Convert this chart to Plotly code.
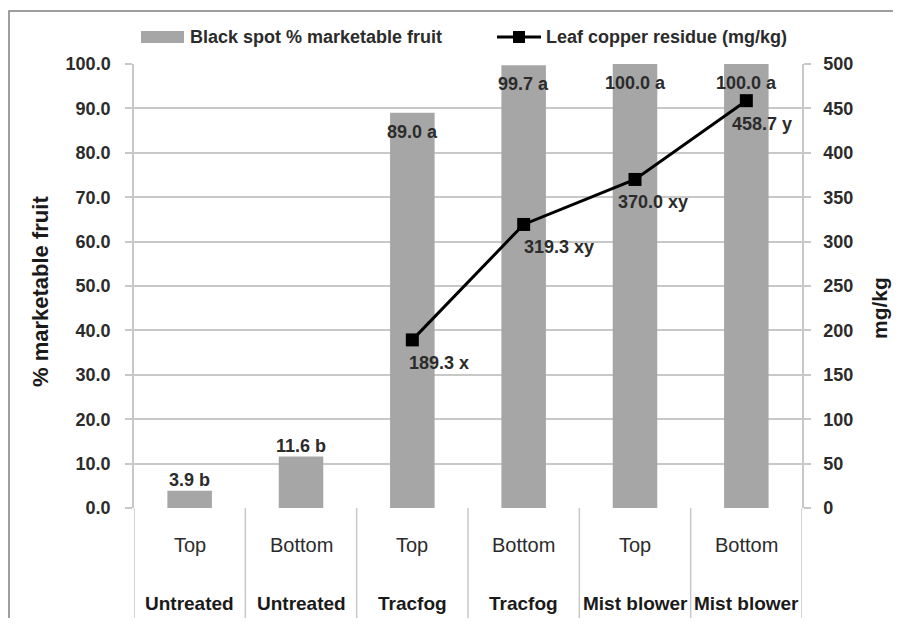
import plotly.graph_objects as go

positions = ["Top", "Bottom", "Top", "Bottom", "Top", "Bottom"]
treatments = ["Untreated", "Untreated", "Tracfog", "Tracfog", "Mist blower", "Mist blower"]
marketable = [3.9, 11.6, 89.0, 99.7, 100.0, 100.0]
marketable_letters = ["b", "b", "a", "a", "a", "a"]
copper = [None, None, 189.3, 319.3, 370.0, 458.7]
copper_letters = ["", "", "x", "xy", "xy", "y"]
left_ticks = [0, 10, 20, 30, 40, 50, 60, 70, 80, 90, 100]
right_ticks = [0, 50, 100, 150, 200, 250, 300, 350, 400, 450, 500]
bar_name = "Black spot % marketable fruit"
line_name = "Leaf copper residue (mg/kg)"
left_title = "% marketable fruit"
right_title = "mg/kg"

FONT = "Liberation Sans, Arial, sans-serif"
TXT = "#2b2b2b"
DARK = "#1a1a1a"
GRID = "#c8c8c8"
BARC = "#a6a6a6"
OFF = 8  # page body margin offset
L, R, T, B = 134, 802, 64, 508  # plot area in page pixels
W, H = R - L, B - T
FW, FH = 901 - 2 * OFF, 626 - 2 * OFF


def px(x):
    return (x - L) / W


def py(y):
    return (B - y) / H


xs = list(range(len(positions)))

fig = go.Figure()
fig.add_trace(go.Bar(
    x=xs, y=marketable, name=bar_name,
    marker=dict(color=BARC, line=dict(width=0)), width=0.4, yaxis="y",
))
fig.add_trace(go.Scatter(
    x=xs, y=copper, name=line_name, yaxis="y2",
    mode="lines+markers", line=dict(color="black", width=3),
    marker=dict(symbol="square", size=13, color="black"),
))

ann = []
for i, (v, l) in enumerate(zip(marketable, marketable_letters)):
    txt = f"<b>{v:.1f} {l}</b>"
    if v > 50:
        ann.append(dict(x=i, y=v, xref="x", yref="y", text=txt, showarrow=False,
                        yanchor="top", yshift=-7, font=dict(size=18, color=TXT, family=FONT)))
    else:
        ann.append(dict(x=i, y=v, xref="x", yref="y", text=txt, showarrow=False,
                        yanchor="bottom", yshift=-1, font=dict(size=18, color=TXT, family=FONT)))
line_shift = [0, 0, 27, 35, 18, 16]
for i, (v, l) in enumerate(zip(copper, copper_letters)):
    if v is None:
        continue
    ann.append(dict(x=i, y=v, xref="x", yref="y2", text=f"<b>{v:.1f} {l}</b>", showarrow=False,
                    yanchor="top", yshift=-11, xshift=line_shift[i],
                    font=dict(size=18, color=TXT, family=FONT)))
for i, (p, t) in enumerate(zip(positions, treatments)):
    ann.append(dict(x=i, y=py(545), xref="x", yref="paper", text=p, showarrow=False,
                    yanchor="middle", font=dict(size=20, color=TXT, family=FONT)))
    ann.append(dict(x=i, y=py(603), xref="x", yref="paper", text=f"<b>{t}</b>", showarrow=False,
                    yanchor="middle", font=dict(size=19, color=DARK, family=FONT)))
ann.append(dict(x=px(188), y=py(37), xref="paper", yref="paper", text=f"<b>{bar_name}</b>",
                showarrow=False, xanchor="left", yanchor="middle",
                font=dict(size=18, color=TXT, family=FONT)))
ann.append(dict(x=px(544), y=py(37), xref="paper", yref="paper", text=f"<b>{line_name}</b>",
                showarrow=False, xanchor="left", yanchor="middle",
                font=dict(size=18, color=TXT, family=FONT)))
ann.append(dict(x=px(40), y=py(292), xref="paper", yref="paper", text=f"<b>{left_title}</b>",
                showarrow=False, textangle=-90, xanchor="center", yanchor="middle",
                font=dict(size=22, color=DARK, family=FONT)))
ann.append(dict(x=px(879), y=py(308), xref="paper", yref="paper", text=f"<b>{right_title}</b>",
                showarrow=False, textangle=-90, xanchor="center", yanchor="middle",
                font=dict(size=21, color=DARK, family=FONT)))

shapes = []
for k in range(len(positions) + 1):
    shapes.append(dict(type="line", xref="x", yref="paper", x0=k - 0.5, x1=k - 0.5,
                       y0=0, y1=py(619), line=dict(color=GRID, width=1.5)))
shapes.append(dict(type="rect", xref="paper", yref="paper", x0=px(141), x1=px(184),
                   y0=py(43), y1=py(31), fillcolor=BARC, line=dict(width=0)))
shapes.append(dict(type="line", xref="paper", yref="paper", x0=px(497), x1=px(541),
                   y0=py(37), y1=py(37), line=dict(color="black", width=3)))
shapes.append(dict(type="rect", xref="paper", yref="paper", x0=px(513), x1=px(525),
                   y0=py(43), y1=py(31), fillcolor="black", line=dict(width=0)))
shapes.append(dict(type="rect", xref="paper", yref="paper",
                   x0=px(OFF + 1), x1=px(920), y0=py(640), y1=py(11),
                   line=dict(color="#7f7f7f", width=1.5)))

fig.update_layout(
    width=FW, height=FH,
    margin=dict(l=L - OFF, r=FW - (R - OFF), t=T - OFF, b=FH - (B - OFF), autoexpand=False),
    paper_bgcolor="white", plot_bgcolor="white",
    font=dict(family=FONT, color=TXT),
    showlegend=False,
    xaxis=dict(range=[-0.5, 5.5], tickvals=xs, showticklabels=False, showgrid=False,
               zeroline=False, showline=False, ticks="", automargin=False),
    yaxis=dict(range=[0, 100], tickvals=left_ticks, ticktext=[f"<b>{t:.1f}</b>" for t in left_ticks],
               showgrid=True, gridcolor=GRID, gridwidth=1.5, zeroline=False,
               showline=True, linecolor=GRID, linewidth=1.5, automargin=False,
               ticks="outside", ticklen=7, tickcolor=GRID, tickwidth=1.5, ticklabelstandoff=11,
               tickfont=dict(size=18, color=TXT, family=FONT)),
    yaxis2=dict(range=[0, 500], tickvals=right_ticks, ticktext=[f"<b>{t}</b>" for t in right_ticks],
                overlaying="y", side="right", showgrid=False, zeroline=False,
                showline=True, linecolor=GRID, linewidth=1.5, automargin=False,
                ticks="outside", ticklen=7, tickcolor=GRID, tickwidth=1.5, ticklabelstandoff=9,
                tickfont=dict(size=18, color=TXT, family=FONT)),
    annotations=ann, shapes=shapes,
)

fig.write_html("out.html")
